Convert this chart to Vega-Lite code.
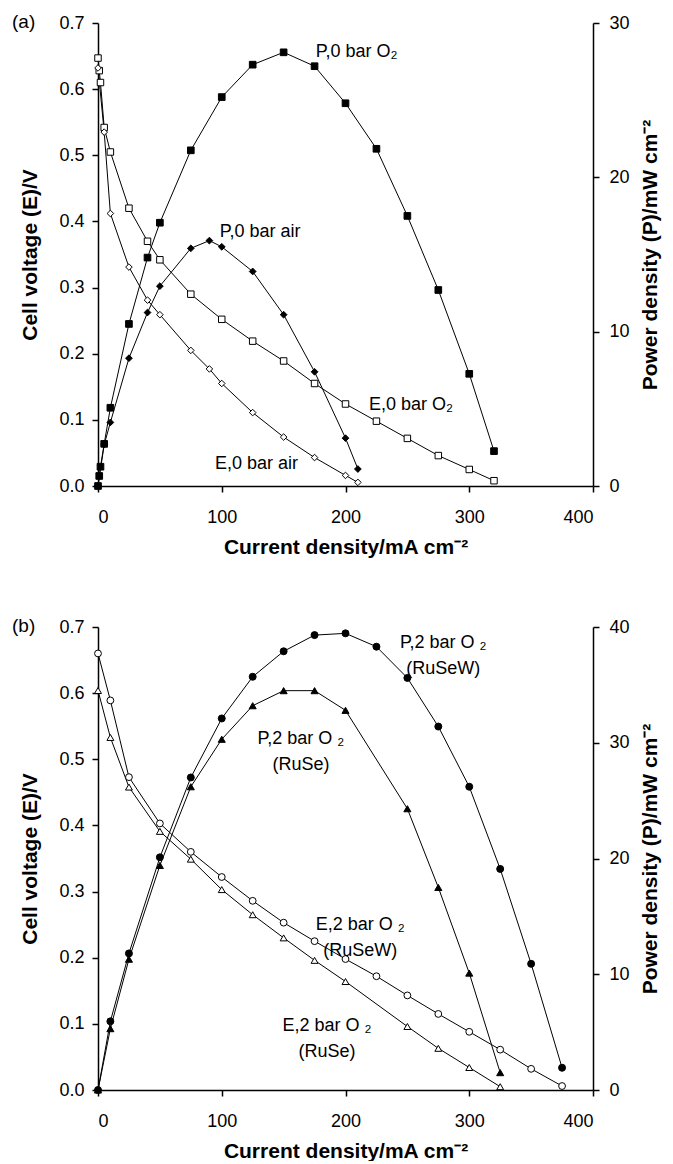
{
"$schema": "https://vega.github.io/schema/vega-lite/v6.json",
"padding": {"left": 12, "top": 13, "right": 5, "bottom": 0},
"datasets": {
"pts": [
{"p":"a","k":"E","s":"Ea_O2","x":0,"y":0.647},{"p":"a","k":"E","s":"Ea_O2","x":1,"y":0.628},{"p":"a","k":"E","s":"Ea_O2","x":2,"y":0.61},{"p":"a","k":"E","s":"Ea_O2","x":5,"y":0.542},{"p":"a","k":"E","s":"Ea_O2","x":10,"y":0.505},{"p":"a","k":"E","s":"Ea_O2","x":25,"y":0.42},{"p":"a","k":"E","s":"Ea_O2","x":40,"y":0.37},{"p":"a","k":"E","s":"Ea_O2","x":50,"y":0.342},{"p":"a","k":"E","s":"Ea_O2","x":75,"y":0.29},{"p":"a","k":"E","s":"Ea_O2","x":100,"y":0.252},{"p":"a","k":"E","s":"Ea_O2","x":125,"y":0.219},{"p":"a","k":"E","s":"Ea_O2","x":150,"y":0.189},{"p":"a","k":"E","s":"Ea_O2","x":175,"y":0.155},{"p":"a","k":"E","s":"Ea_O2","x":200,"y":0.124},{"p":"a","k":"E","s":"Ea_O2","x":225,"y":0.098},{"p":"a","k":"E","s":"Ea_O2","x":250,"y":0.072},{"p":"a","k":"E","s":"Ea_O2","x":275,"y":0.046},{"p":"a","k":"E","s":"Ea_O2","x":300,"y":0.025},{"p":"a","k":"E","s":"Ea_O2","x":320,"y":0.008},
{"p":"a","k":"E","s":"Ea_air","x":0,"y":0.632},{"p":"a","k":"E","s":"Ea_air","x":5,"y":0.535},{"p":"a","k":"E","s":"Ea_air","x":10,"y":0.412},{"p":"a","k":"E","s":"Ea_air","x":25,"y":0.331},{"p":"a","k":"E","s":"Ea_air","x":40,"y":0.281},{"p":"a","k":"E","s":"Ea_air","x":50,"y":0.259},{"p":"a","k":"E","s":"Ea_air","x":75,"y":0.205},{"p":"a","k":"E","s":"Ea_air","x":90,"y":0.177},{"p":"a","k":"E","s":"Ea_air","x":100,"y":0.155},{"p":"a","k":"E","s":"Ea_air","x":125,"y":0.111},{"p":"a","k":"E","s":"Ea_air","x":150,"y":0.074},{"p":"a","k":"E","s":"Ea_air","x":175,"y":0.043},{"p":"a","k":"E","s":"Ea_air","x":200,"y":0.016},{"p":"a","k":"E","s":"Ea_air","x":210,"y":0.0055},
{"p":"a","k":"P","s":"Pa_O2","x":0,"y":0},{"p":"a","k":"P","s":"Pa_O2","x":1,"y":0.65},{"p":"a","k":"P","s":"Pa_O2","x":2,"y":1.25},{"p":"a","k":"P","s":"Pa_O2","x":5,"y":2.73},{"p":"a","k":"P","s":"Pa_O2","x":10,"y":5.07},{"p":"a","k":"P","s":"Pa_O2","x":25,"y":10.5},{"p":"a","k":"P","s":"Pa_O2","x":40,"y":14.8},{"p":"a","k":"P","s":"Pa_O2","x":50,"y":17.06},{"p":"a","k":"P","s":"Pa_O2","x":75,"y":21.75},{"p":"a","k":"P","s":"Pa_O2","x":100,"y":25.2},{"p":"a","k":"P","s":"Pa_O2","x":125,"y":27.3},{"p":"a","k":"P","s":"Pa_O2","x":150,"y":28.1},{"p":"a","k":"P","s":"Pa_O2","x":175,"y":27.2},{"p":"a","k":"P","s":"Pa_O2","x":200,"y":24.8},{"p":"a","k":"P","s":"Pa_O2","x":225,"y":21.85},{"p":"a","k":"P","s":"Pa_O2","x":250,"y":17.5},{"p":"a","k":"P","s":"Pa_O2","x":275,"y":12.7},{"p":"a","k":"P","s":"Pa_O2","x":300,"y":7.27},{"p":"a","k":"P","s":"Pa_O2","x":320,"y":2.26},
{"p":"a","k":"P","s":"Pa_air","x":0,"y":0},{"p":"a","k":"P","s":"Pa_air","x":5,"y":2.68},{"p":"a","k":"P","s":"Pa_air","x":10,"y":4.12},{"p":"a","k":"P","s":"Pa_air","x":25,"y":8.28},{"p":"a","k":"P","s":"Pa_air","x":40,"y":11.24},{"p":"a","k":"P","s":"Pa_air","x":50,"y":12.95},{"p":"a","k":"P","s":"Pa_air","x":75,"y":15.4},{"p":"a","k":"P","s":"Pa_air","x":90,"y":15.9},{"p":"a","k":"P","s":"Pa_air","x":100,"y":15.5},{"p":"a","k":"P","s":"Pa_air","x":125,"y":13.9},{"p":"a","k":"P","s":"Pa_air","x":150,"y":11.1},{"p":"a","k":"P","s":"Pa_air","x":175,"y":7.4},{"p":"a","k":"P","s":"Pa_air","x":200,"y":3.1},{"p":"a","k":"P","s":"Pa_air","x":210,"y":1.1},
{"p":"b","k":"E","s":"Eb_W","x":0,"y":0.66},{"p":"b","k":"E","s":"Eb_W","x":10,"y":0.589},{"p":"b","k":"E","s":"Eb_W","x":25,"y":0.473},{"p":"b","k":"E","s":"Eb_W","x":50,"y":0.403},{"p":"b","k":"E","s":"Eb_W","x":75,"y":0.36},{"p":"b","k":"E","s":"Eb_W","x":100,"y":0.322},{"p":"b","k":"E","s":"Eb_W","x":125,"y":0.286},{"p":"b","k":"E","s":"Eb_W","x":150,"y":0.253},{"p":"b","k":"E","s":"Eb_W","x":175,"y":0.225},{"p":"b","k":"E","s":"Eb_W","x":200,"y":0.198},{"p":"b","k":"E","s":"Eb_W","x":225,"y":0.172},{"p":"b","k":"E","s":"Eb_W","x":250,"y":0.143},{"p":"b","k":"E","s":"Eb_W","x":275,"y":0.115},{"p":"b","k":"E","s":"Eb_W","x":300,"y":0.088},{"p":"b","k":"E","s":"Eb_W","x":325,"y":0.061},{"p":"b","k":"E","s":"Eb_W","x":350,"y":0.032},{"p":"b","k":"E","s":"Eb_W","x":375,"y":0.006},
{"p":"b","k":"E","s":"Eb_R","x":0,"y":0.604},{"p":"b","k":"E","s":"Eb_R","x":10,"y":0.533},{"p":"b","k":"E","s":"Eb_R","x":25,"y":0.458},{"p":"b","k":"E","s":"Eb_R","x":50,"y":0.391},{"p":"b","k":"E","s":"Eb_R","x":75,"y":0.349},{"p":"b","k":"E","s":"Eb_R","x":100,"y":0.303},{"p":"b","k":"E","s":"Eb_R","x":125,"y":0.265},{"p":"b","k":"E","s":"Eb_R","x":150,"y":0.23},{"p":"b","k":"E","s":"Eb_R","x":175,"y":0.196},{"p":"b","k":"E","s":"Eb_R","x":200,"y":0.164},{"p":"b","k":"E","s":"Eb_R","x":250,"y":0.096},{"p":"b","k":"E","s":"Eb_R","x":275,"y":0.063},{"p":"b","k":"E","s":"Eb_R","x":300,"y":0.034},{"p":"b","k":"E","s":"Eb_R","x":325,"y":0.005},
{"p":"b","k":"P","s":"Pb_W","x":0,"y":0},{"p":"b","k":"P","s":"Pb_W","x":10,"y":5.93},{"p":"b","k":"P","s":"Pb_W","x":25,"y":11.8},{"p":"b","k":"P","s":"Pb_W","x":50,"y":20.1},{"p":"b","k":"P","s":"Pb_W","x":75,"y":27.0},{"p":"b","k":"P","s":"Pb_W","x":100,"y":32.1},{"p":"b","k":"P","s":"Pb_W","x":125,"y":35.7},{"p":"b","k":"P","s":"Pb_W","x":150,"y":37.9},{"p":"b","k":"P","s":"Pb_W","x":175,"y":39.3},{"p":"b","k":"P","s":"Pb_W","x":200,"y":39.45},{"p":"b","k":"P","s":"Pb_W","x":225,"y":38.3},{"p":"b","k":"P","s":"Pb_W","x":250,"y":35.6},{"p":"b","k":"P","s":"Pb_W","x":275,"y":31.4},{"p":"b","k":"P","s":"Pb_W","x":300,"y":26.2},{"p":"b","k":"P","s":"Pb_W","x":325,"y":19.1},{"p":"b","k":"P","s":"Pb_W","x":350,"y":10.9},{"p":"b","k":"P","s":"Pb_W","x":375,"y":1.92},
{"p":"b","k":"P","s":"Pb_R","x":0,"y":0},{"p":"b","k":"P","s":"Pb_R","x":10,"y":5.3},{"p":"b","k":"P","s":"Pb_R","x":25,"y":11.3},{"p":"b","k":"P","s":"Pb_R","x":50,"y":19.4},{"p":"b","k":"P","s":"Pb_R","x":75,"y":26.2},{"p":"b","k":"P","s":"Pb_R","x":100,"y":30.3},{"p":"b","k":"P","s":"Pb_R","x":125,"y":33.2},{"p":"b","k":"P","s":"Pb_R","x":150,"y":34.5},{"p":"b","k":"P","s":"Pb_R","x":175,"y":34.5},{"p":"b","k":"P","s":"Pb_R","x":200,"y":32.8},{"p":"b","k":"P","s":"Pb_R","x":250,"y":24.3},{"p":"b","k":"P","s":"Pb_R","x":275,"y":17.5},{"p":"b","k":"P","s":"Pb_R","x":300,"y":10.1},{"p":"b","k":"P","s":"Pb_R","x":325,"y":1.5}
],
"labels": [
{"p":"a","x":209,"y":0.656,"t":"P,0 bar O₂"},
{"p":"a","x":131,"y":0.384,"t":"P,0 bar air"},
{"p":"a","x":253,"y":0.1225,"t":"E,0 bar O₂"},
{"p":"a","x":128,"y":0.033,"t":"E,0 bar air"},
{"p":"b","x":279,"y":0.6765,"t":"P,2 bar O ₂\n(RuSeW)"},
{"p":"b","x":164,"y":0.531,"t":"P,2 bar O ₂\n(RuSe)"},
{"p":"b","x":212,"y":0.25,"t":"E,2 bar O ₂\n(RuSeW)"},
{"p":"b","x":185,"y":0.097,"t":"E,2 bar O ₂\n(RuSe)"}
]
},
"spacing": 60,
"vconcat": [
{
"width": 495, "height": 463,
"title": {"text": "(a)", "anchor": "start", "frame": "group", "orient": "top", "offset": 0, "dx": -86, "dy": 27, "align": "left", "baseline": "middle", "fontSize": 19, "fontWeight": "normal", "font": "Liberation Sans", "color": "black"},
"layer": [
{
"encoding": {
"x": {"field": "x", "type": "quantitative", "scale": {"domain": [0, 400], "nice": false}, "axis": {"values": [0, 100, 200, 300, 400], "title": "Current density/mA cm⁻²"}},
"y": {"field": "y", "type": "quantitative", "scale": {"domain": [0, 0.7], "nice": false, "zero": false}, "axis": {"orient": "left", "values": [0, 0.1, 0.2, 0.3, 0.4, 0.5, 0.6, 0.7], "format": ".1f", "title": "Cell voltage (E)/V"}}
},
"layer": [
{"data": {"name": "pts"}, "transform": [{"filter": "datum.p=='a' && datum.k=='E'"}], "mark": {"type": "line", "color": "black"},
 "encoding": {"strokeWidth": {"field": "s", "type": "nominal", "scale": {"domain": ["Ea_O2","Ea_air","Pa_O2","Pa_air","Eb_W","Eb_R","Pb_W","Pb_R"], "range": [1,1,1,1,2,1,2,1]}, "legend": null}}},
{"data": {"name": "pts"}, "transform": [{"filter": "datum.p=='a' && datum.k=='E'"}], "mark": {"type": "point", "filled": true, "stroke": "black", "strokeWidth": 1, "opacity": 1},
 "encoding": {
  "shape": {"field": "s", "type": "nominal", "scale": {"domain": ["Ea_O2","Ea_air","Pa_O2","Pa_air","Eb_W","Eb_R","Pb_W","Pb_R"], "range": ["square","diamond","square","diamond","circle","triangle-up","circle","triangle-up"]}, "legend": null},
  "fill": {"field": "s", "type": "nominal", "scale": {"domain": ["Ea_O2","Ea_air","Pa_O2","Pa_air","Eb_W","Eb_R","Pb_W","Pb_R"], "range": ["white","white","black","black","white","white","black","black"]}, "legend": null},
  "size": {"field": "s", "type": "nominal", "scale": {"domain": ["Ea_O2","Ea_air","Pa_O2","Pa_air","Eb_W","Eb_R","Pb_W","Pb_R"], "range": [42,50,42,50,38,45,38,45]}, "legend": null}
 }},
{"data": {"name": "labels"}, "transform": [{"filter": "datum.p=='a'"}], "mark": {"type": "text", "align": "center", "baseline": "middle", "fontSize": 18, "font": "Liberation Sans", "color": "black", "lineBreak": "\n", "lineHeight": 26},
 "encoding": {"text": {"field": "t"}}}
]
},
{
"encoding": {
"x": {"field": "x", "type": "quantitative", "scale": {"domain": [0, 400], "nice": false}},
"y": {"field": "y", "type": "quantitative", "scale": {"domain": [0, 30], "nice": false}, "axis": {"orient": "right", "values": [0, 10, 20, 30], "title": "Power density (P)/mW cm⁻²"}}
},
"layer": [
{"data": {"name": "pts"}, "transform": [{"filter": "datum.p=='a' && datum.k=='P'"}], "mark": {"type": "line", "color": "black"},
 "encoding": {"strokeWidth": {"field": "s", "type": "nominal", "scale": {"domain": ["Ea_O2","Ea_air","Pa_O2","Pa_air","Eb_W","Eb_R","Pb_W","Pb_R"], "range": [1,1,1,1,2,1,2,1]}, "legend": null}}},
{"data": {"name": "pts"}, "transform": [{"filter": "datum.p=='a' && datum.k=='P'"}], "mark": {"type": "point", "filled": true, "stroke": "black", "strokeWidth": 1, "opacity": 1},
 "encoding": {
  "shape": {"field": "s", "type": "nominal", "scale": {"domain": ["Ea_O2","Ea_air","Pa_O2","Pa_air","Eb_W","Eb_R","Pb_W","Pb_R"], "range": ["square","diamond","square","diamond","circle","triangle-up","circle","triangle-up"]}, "legend": null},
  "fill": {"field": "s", "type": "nominal", "scale": {"domain": ["Ea_O2","Ea_air","Pa_O2","Pa_air","Eb_W","Eb_R","Pb_W","Pb_R"], "range": ["white","white","black","black","white","white","black","black"]}, "legend": null},
  "size": {"field": "s", "type": "nominal", "scale": {"domain": ["Ea_O2","Ea_air","Pa_O2","Pa_air","Eb_W","Eb_R","Pb_W","Pb_R"], "range": [42,50,42,50,38,45,38,45]}, "legend": null}
 }}
]
}
],
"resolve": {"scale": {"y": "independent"}}
},
{
"width": 495, "height": 463,
"title": {"text": "(b)", "anchor": "start", "frame": "group", "orient": "top", "offset": 0, "dx": -86, "dy": 27, "align": "left", "baseline": "middle", "fontSize": 19, "fontWeight": "normal", "font": "Liberation Sans", "color": "black"},
"layer": [
{
"encoding": {
"x": {"field": "x", "type": "quantitative", "scale": {"domain": [0, 400], "nice": false}, "axis": {"values": [0, 100, 200, 300, 400], "title": "Current density/mA cm⁻²"}},
"y": {"field": "y", "type": "quantitative", "scale": {"domain": [0, 0.7], "nice": false, "zero": false}, "axis": {"orient": "left", "values": [0, 0.1, 0.2, 0.3, 0.4, 0.5, 0.6, 0.7], "format": ".1f", "title": "Cell voltage (E)/V"}}
},
"layer": [
{"data": {"name": "pts"}, "transform": [{"filter": "datum.p=='b' && datum.k=='E'"}], "mark": {"type": "line", "color": "black"},
 "encoding": {"strokeWidth": {"field": "s", "type": "nominal", "scale": {"domain": ["Ea_O2","Ea_air","Pa_O2","Pa_air","Eb_W","Eb_R","Pb_W","Pb_R"], "range": [1,1,1,1,2,1,2,1]}, "legend": null}}},
{"data": {"name": "pts"}, "transform": [{"filter": "datum.p=='b' && datum.k=='E'"}], "mark": {"type": "point", "filled": true, "stroke": "black", "strokeWidth": 1, "opacity": 1},
 "encoding": {
  "shape": {"field": "s", "type": "nominal", "scale": {"domain": ["Ea_O2","Ea_air","Pa_O2","Pa_air","Eb_W","Eb_R","Pb_W","Pb_R"], "range": ["square","diamond","square","diamond","circle","triangle-up","circle","triangle-up"]}, "legend": null},
  "fill": {"field": "s", "type": "nominal", "scale": {"domain": ["Ea_O2","Ea_air","Pa_O2","Pa_air","Eb_W","Eb_R","Pb_W","Pb_R"], "range": ["white","white","black","black","white","white","black","black"]}, "legend": null},
  "size": {"field": "s", "type": "nominal", "scale": {"domain": ["Ea_O2","Ea_air","Pa_O2","Pa_air","Eb_W","Eb_R","Pb_W","Pb_R"], "range": [42,50,42,50,38,45,38,45]}, "legend": null}
 }},
{"data": {"name": "labels"}, "transform": [{"filter": "datum.p=='b'"}], "mark": {"type": "text", "align": "center", "baseline": "middle", "fontSize": 18, "font": "Liberation Sans", "color": "black", "lineBreak": "\n", "lineHeight": 26},
 "encoding": {"text": {"field": "t"}}}
]
},
{
"encoding": {
"x": {"field": "x", "type": "quantitative", "scale": {"domain": [0, 400], "nice": false}},
"y": {"field": "y", "type": "quantitative", "scale": {"domain": [0, 40], "nice": false}, "axis": {"orient": "right", "values": [0, 10, 20, 30, 40], "title": "Power density (P)/mW cm⁻²"}}
},
"layer": [
{"data": {"name": "pts"}, "transform": [{"filter": "datum.p=='b' && datum.k=='P'"}], "mark": {"type": "line", "color": "black"},
 "encoding": {"strokeWidth": {"field": "s", "type": "nominal", "scale": {"domain": ["Ea_O2","Ea_air","Pa_O2","Pa_air","Eb_W","Eb_R","Pb_W","Pb_R"], "range": [1,1,1,1,2,1,2,1]}, "legend": null}}},
{"data": {"name": "pts"}, "transform": [{"filter": "datum.p=='b' && datum.k=='P'"}], "mark": {"type": "point", "filled": true, "stroke": "black", "strokeWidth": 1, "opacity": 1},
 "encoding": {
  "shape": {"field": "s", "type": "nominal", "scale": {"domain": ["Ea_O2","Ea_air","Pa_O2","Pa_air","Eb_W","Eb_R","Pb_W","Pb_R"], "range": ["square","diamond","square","diamond","circle","triangle-up","circle","triangle-up"]}, "legend": null},
  "fill": {"field": "s", "type": "nominal", "scale": {"domain": ["Ea_O2","Ea_air","Pa_O2","Pa_air","Eb_W","Eb_R","Pb_W","Pb_R"], "range": ["white","white","black","black","white","white","black","black"]}, "legend": null},
  "size": {"field": "s", "type": "nominal", "scale": {"domain": ["Ea_O2","Ea_air","Pa_O2","Pa_air","Eb_W","Eb_R","Pb_W","Pb_R"], "range": [42,50,42,50,38,45,38,45]}, "legend": null}
 }}
]
}
],
"resolve": {"scale": {"y": "independent"}}
}
],
"config": {
"view": {"stroke": null},
"font": "Liberation Sans",
"axis": {"grid": false, "domainColor": "black", "domainWidth": 1.5, "tickColor": "black", "tickWidth": 1.5, "tickSize": 6, "labelColor": "black", "labelFontSize": 18, "labelFont": "Liberation Sans", "titleFont": "Liberation Sans", "titleFontSize": 21, "titleFontWeight": "bold", "titleColor": "black"},
"axisLeft": {"labelPadding": 8, "titlePadding": 18},
"axisRight": {"labelPadding": 10, "titlePadding": 10, "titleAngle": 270, "titleBaseline": "top"},
"axisBottom": {"labelPadding": 16, "titlePadding": 10}
}
}
